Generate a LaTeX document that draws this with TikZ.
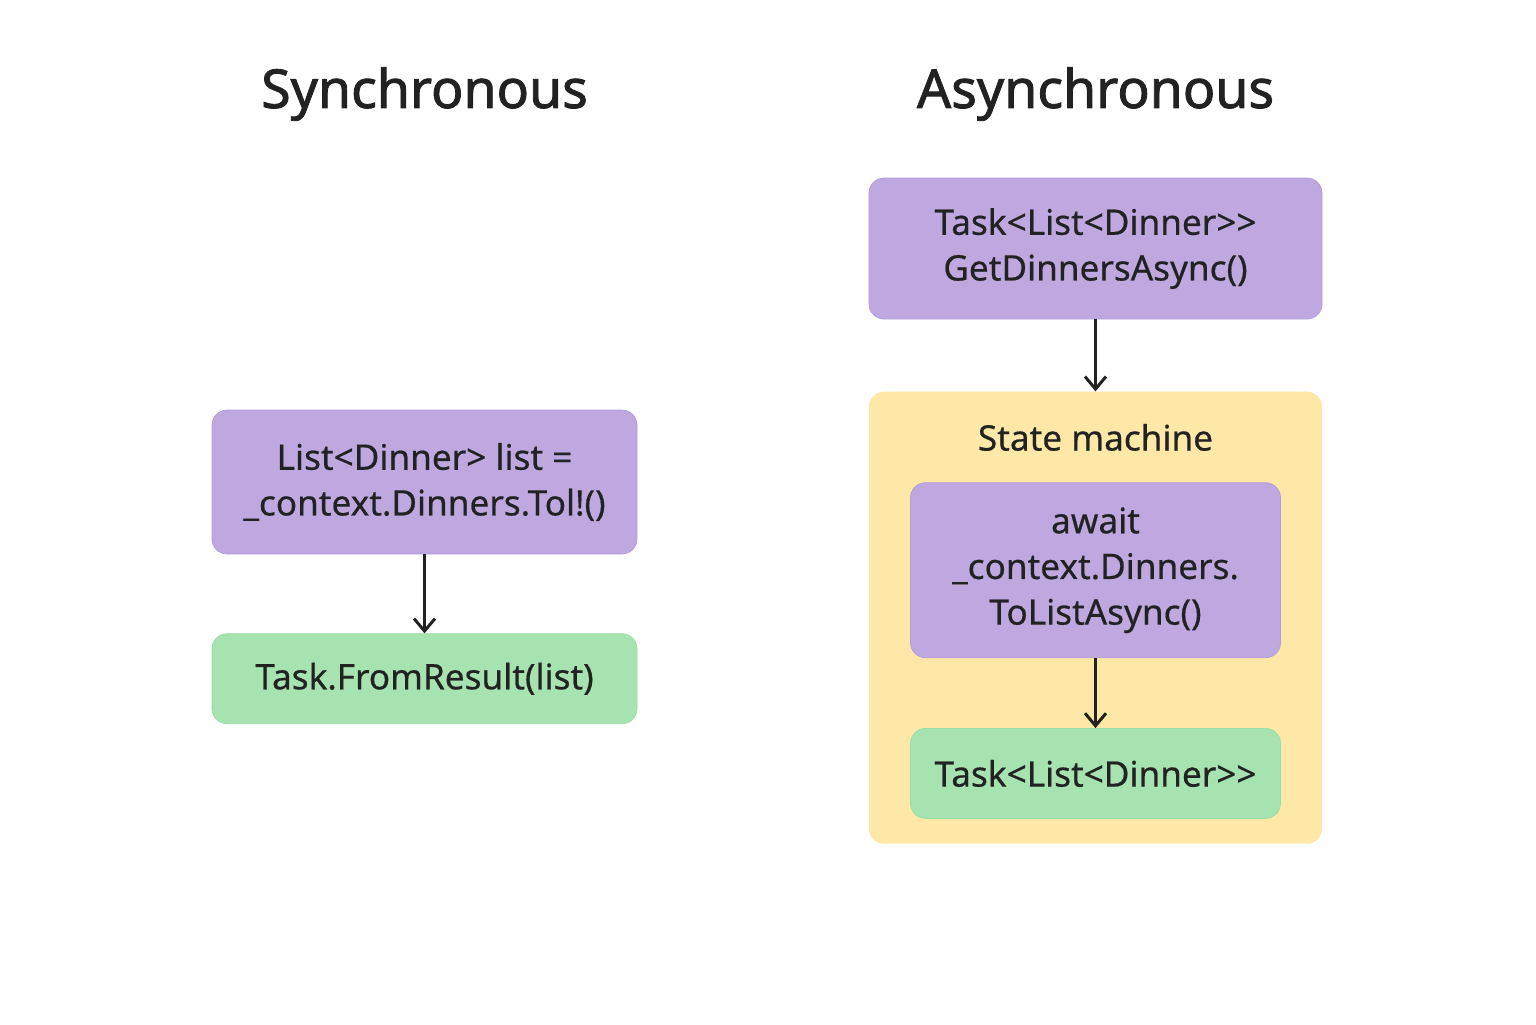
\documentclass[tikz,border=0pt]{standalone}
\usepackage{fontspec}
\setmainfont{Noto Sans}[Ligatures=TeXOff]
\newfontfamily\titlefont{Noto Sans}[Ligatures=TeXOff, FakeBold=1.6]
\newfontfamily\boxfont{Noto Sans}[Ligatures=TeXOff, FakeBold=0.5]
\usepackage{xcolor}
\usetikzlibrary{positioning,arrows.meta}

\definecolor{callpurple}{HTML}{BFA8E0}
\definecolor{callborder}{HTML}{B39BE0}
\definecolor{resgreen}{HTML}{A6E3B0}
\definecolor{resborder}{HTML}{9ADDA6}
\definecolor{smyellow}{HTML}{FDE8A7}
\definecolor{inkgray}{HTML}{222222}

\begin{document}
\begin{tikzpicture}[->, >={Straight Barb[length=2.5mm,width=4.2mm,line width=1.7pt]}, node distance=1.5cm and 4cm, call/.style = {rectangle, rounded corners=0.3cm, draw=callborder, fill=callpurple, text=inkgray, align=center, font=\boxfont\fontsize{20}{26}\selectfont, inner sep=0pt}, result/.style = {call, draw=resborder, fill=resgreen}, title/.style = {text=inkgray, font=\titlefont\fontsize{30.5}{36}\selectfont}, flow/.style = {draw=inkgray, line width=1.7pt}]

\useasboundingbox (0,0) rectangle (30.72,-20.48);

% synchronous side
\node[title] (synctitle) at (8.49,-1.88) {Synchronous};
\node[call, minimum width=8.5cm, minimum height=2.88cm] (tolist) at (8.49,-9.64) {List<Dinner> list =\\\_context.Dinners.Tol!()};
\node[result, minimum width=8.5cm, minimum height=1.8cm] (fromresult) [below=1.58cm of tolist] {Task.FromResult(list)};

% asynchronous side
\node[title] (asynctitle) at (21.91,-1.88) {Asynchronous};
\node[call, minimum width=9.06cm, minimum height=2.82cm] (getasync) at (21.91,-4.97) {Task<List<Dinner>>\\GetDinnersAsync()};
\node[rectangle, rounded corners=0.3cm, fill=smyellow, minimum width=9.06cm, minimum height=9.04cm, anchor=north] (statemachine) [below=1.44cm of getasync] {};
\node[text=inkgray, font=\boxfont\fontsize{20}{26}\selectfont, anchor=center] (smlabel) at ([yshift=-0.92cm]statemachine.north) {State machine};
\node[call, minimum width=7.4cm, minimum height=3.5cm, anchor=north] (awaitcall) at ([yshift=-1.82cm]statemachine.north) {await\\\_context.Dinners.\\ToListAsync()};
\node[result, minimum width=7.4cm, minimum height=1.8cm] (tasklist) [below=1.4cm of awaitcall] {Task<List<Dinner>>};

\path[flow]
    (tolist) edge (fromresult)
    (getasync) edge (statemachine)
    (awaitcall) edge (tasklist);
\end{tikzpicture}
\end{document}
